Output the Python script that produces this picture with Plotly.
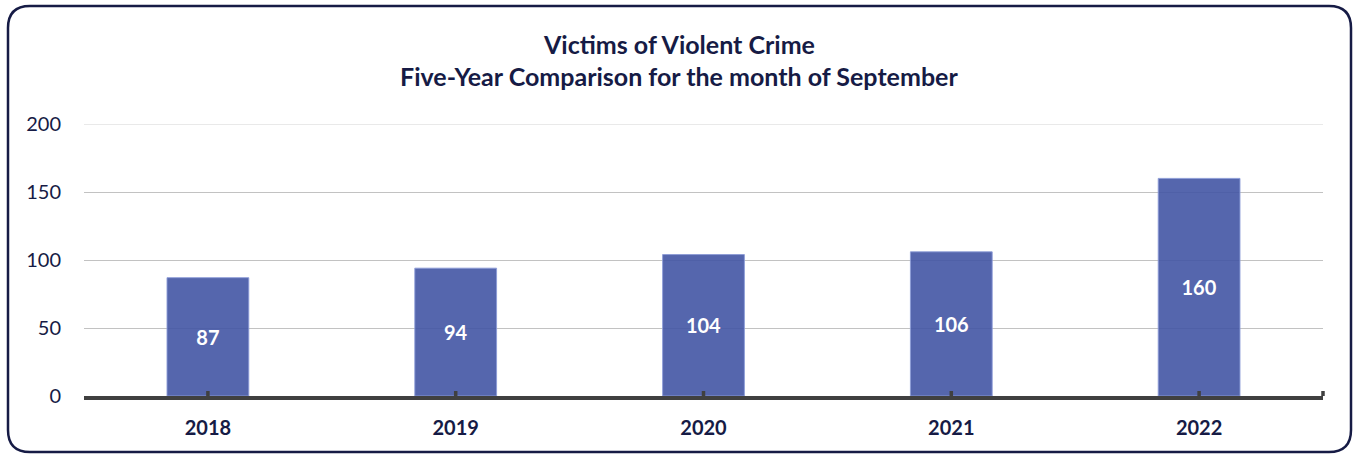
import plotly.graph_objects as go

years = ["2018", "2019", "2020", "2021", "2022"]
victims = [87, 94, 104, 106, 160]
title_lines = ["Victims of Violent Crime", "Five-Year Comparison for the month of September"]
y_ticks = [0, 50, 100, 150, 200]

NAVY = "#161b45"
FONT = "Lato, 'Noto Sans', sans-serif"

W, H = 1354, 454
ML, MR, MT, MB = 84, 31, 124, 58
PW, PH = W - ML - MR, H - MT - MB

def px_to_paper_x(px):
    return (px - ML) / PW

def px_to_paper_y(py):
    return (H - MB - py) / PH

fig = go.Figure()
fig.add_trace(go.Bar(
    x=years, y=victims,
    marker=dict(color="rgba(66,85,164,0.9)", line=dict(color="rgba(140,155,215,0.9)", width=1)),
    text=[str(v) for v in victims],
    textposition="inside", insidetextanchor="middle",
    textfont=dict(family=FONT, size=20, color="white", weight="bold"),
    hoverinfo="x+y",
))

shapes = []
# top gridline (at range edge)
shapes.append(dict(type="line", xref="paper", x0=0, x1=1, yref="y", y0=y_ticks[-1], y1=y_ticks[-1],
                   line=dict(color="#e2e2e2", width=1.5), layer="below"))
# crossing tick marks at categories (category index positions)
for i, _ in enumerate(years):
    shapes.append(dict(type="line", xref="x", x0=i, x1=i, yref="y", ysizemode="pixel",
                       yanchor=0, y0=-7, y1=5, line=dict(color="#404040", width=3.5), layer="above"))
shapes.append(dict(type="line", xref="paper", x0=1, x1=1, yref="y", ysizemode="pixel",
                   yanchor=0, y0=-7, y1=5, line=dict(color="#404040", width=3.5), layer="above"))

# rounded border
bx0, bx1, by0, by1 = 8, 1351, 6, 452
r = 22
X = px_to_paper_x
Y = px_to_paper_y
path = (f"M {X(bx0 + r)} {Y(by0)} L {X(bx1 - r)} {Y(by0)} "
        f"Q {X(bx1)} {Y(by0)} {X(bx1)} {Y(by0 + r)} "
        f"L {X(bx1)} {Y(by1 - r)} Q {X(bx1)} {Y(by1)} {X(bx1 - r)} {Y(by1)} "
        f"L {X(bx0 + r)} {Y(by1)} Q {X(bx0)} {Y(by1)} {X(bx0)} {Y(by1 - r)} "
        f"L {X(bx0)} {Y(by0 + r)} Q {X(bx0)} {Y(by0)} {X(bx0 + r)} {Y(by0)} Z")
shapes.append(dict(type="path", xref="paper", yref="paper", path=path,
                   line=dict(color=NAVY, width=2.5), layer="above"))

annotations = []
for line, py in zip(title_lines, [44, 76]):
    annotations.append(dict(text=line, xref="paper", yref="paper",
                            x=px_to_paper_x(679), y=px_to_paper_y(py),
                            xanchor="center", yanchor="middle", showarrow=False,
                            font=dict(family=FONT, size=25, color=NAVY, weight="bold")))

fig.update_layout(
    width=W, height=H,
    margin=dict(l=ML, r=MR, t=MT, b=MB, pad=0, autoexpand=False),
    paper_bgcolor="white", plot_bgcolor="white",
    bargap=0.67,
    showlegend=False,
    shapes=shapes,
    annotations=annotations,
    xaxis=dict(
        type="category", range=[-0.5, len(years) - 0.5],
        showline=True, linecolor="#404040", linewidth=4,
        ticks="", showgrid=False, automargin=False,
        tickfont=dict(family=FONT, size=20, color=NAVY, weight="bold"),
        ticklabelstandoff=11,
    ),
    yaxis=dict(
        range=[0, 200], tickvals=y_ticks, automargin=False,
        showgrid=True, gridcolor="#c2c2c2", gridwidth=1,
        zeroline=False, showline=False, ticks="",
        tickfont=dict(family=FONT, size=20, color=NAVY),
        ticklabelstandoff=22,
    ),
)

fig.write_html("out.html", config={"displayModeBar": False},
               post_script="document.body.style.margin='0';document.body.style.overflow='hidden';")
